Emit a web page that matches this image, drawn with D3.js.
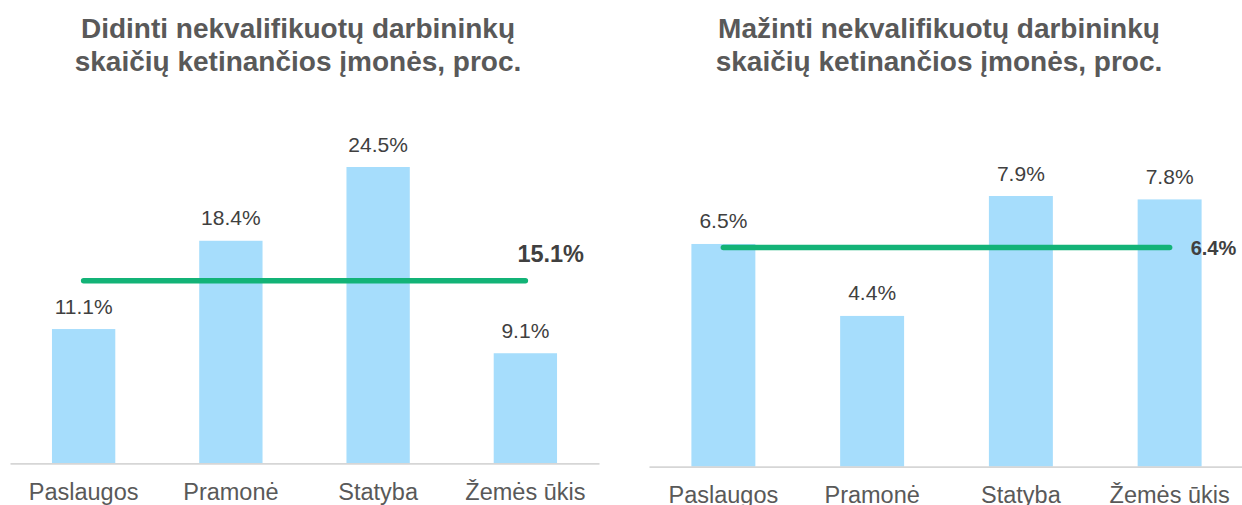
<!DOCTYPE html>
<html>
<head>
<meta charset="utf-8">
<script src="https://cdn.jsdelivr.net/npm/d3@7"></script>
<style>
  body { margin: 0; background: #fff; }
  svg { display: block; font-family: "Liberation Sans", Arial, Helvetica, sans-serif; }
</style>
</head>
<body>
<div id="chart"></div>
<script>
// chart values
const categories = ['Paslaugos', 'Pramonė', 'Statyba', 'Žemės ūkis'];
const increaseValues = [11.1, 18.4, 24.5, 9.1];
const decreaseValues = [6.5, 4.4, 7.9, 7.8];
const averages = [15.1, 6.4];
const titles = [
  ['Didinti nekvalifikuotų darbininkų', 'skaičių ketinančios įmonės, proc.'],
  ['Mažinti nekvalifikuotų darbininkų', 'skaičių ketinančios įmonės, proc.']
];

const width = 1242;
const height = 505;

// layout for each panel
const panels = [
  { values: increaseValues, avg: averages[0], title: titles[0],
    xRange: [10, 599], base: 463.3, top: 167, titleX: 298,
    avgDx: -8, avgDy: -19, avgSize: 23.5, avgAnchor: 'start' },
  { values: decreaseValues, avg: averages[1], title: titles[1],
    xRange: [649, 1244], base: 466.7, top: 196, titleX: 939,
    avgDx: 21, avgDy: 8, avgSize: 20, avgAnchor: 'start' }
];

const svg = d3.select('#chart')
  .append('svg')
  .attr('width', width)
  .attr('height', height);

panels.forEach((p) => {
  const g = svg.append('g');

  const x = d3.scaleBand()
    .domain(categories)
    .range(p.xRange)
    .paddingInner(0.57)
    .paddingOuter(0.285);

  const y = d3.scaleLinear()
    .domain([0, d3.max(p.values)])
    .range([p.base, p.top]);

  // title
  const title = g.append('text')
    .attr('x', p.titleX)
    .attr('y', 38)
    .attr('text-anchor', 'middle')
    .style('font-size', '28px')
    .style('font-weight', 'bold')
    .style('fill', '#595959');
  title.selectAll('tspan')
    .data(p.title)
    .join('tspan')
    .attr('x', p.titleX)
    .attr('dy', (d, i) => i === 0 ? 0 : 33)
    .text((d) => d);

  // bars
  g.selectAll('rect')
    .data(p.values)
    .join('rect')
    .attr('x', (d, i) => x(categories[i]))
    .attr('y', (d) => y(d))
    .attr('width', x.bandwidth())
    .attr('height', (d) => y(0) - y(d))
    .style('fill', '#a6ddfc');

  // value labels
  g.selectAll('.val')
    .data(p.values)
    .join('text')
    .attr('class', 'val')
    .attr('x', (d, i) => x(categories[i]) + x.bandwidth() / 2)
    .attr('y', (d) => y(d) - 15.5)
    .attr('text-anchor', 'middle')
    .style('font-size', '21px')
    .style('fill', '#404040')
    .text((d) => d.toFixed(1) + '%');

  // axis
  const axis = g.append('g')
    .attr('transform', `translate(0, ${y(0)})`)
    .call(d3.axisBottom(x).tickSize(0).tickSizeOuter(0).tickPadding(20));
  axis.select('.domain')
    .attr('stroke', '#d6d6d6')
    .attr('stroke-width', 1.8);
  axis.selectAll('text')
    .style('font-family', '"Liberation Sans", Arial, Helvetica, sans-serif')
    .style('font-size', '23.5px')
    .style('fill', '#595959');

  // average line
  const x0 = x(categories[0]) + x.bandwidth() / 2;
  const x1 = x(categories[categories.length - 1]) + x.bandwidth() / 2;
  g.append('line')
    .attr('x1', x0)
    .attr('x2', x1)
    .attr('y1', y(p.avg))
    .attr('y2', y(p.avg))
    .attr('stroke', '#13b377')
    .attr('stroke-width', 5.5)
    .attr('stroke-linecap', 'round');

  g.append('text')
    .attr('x', x1 + p.avgDx)
    .attr('y', y(p.avg) + p.avgDy)
    .attr('text-anchor', p.avgAnchor)
    .style('font-size', p.avgSize + 'px')
    .style('font-weight', 'bold')
    .style('fill', '#404040')
    .text(p.avg.toFixed(1) + '%');
});
</script>
</body>
</html>
